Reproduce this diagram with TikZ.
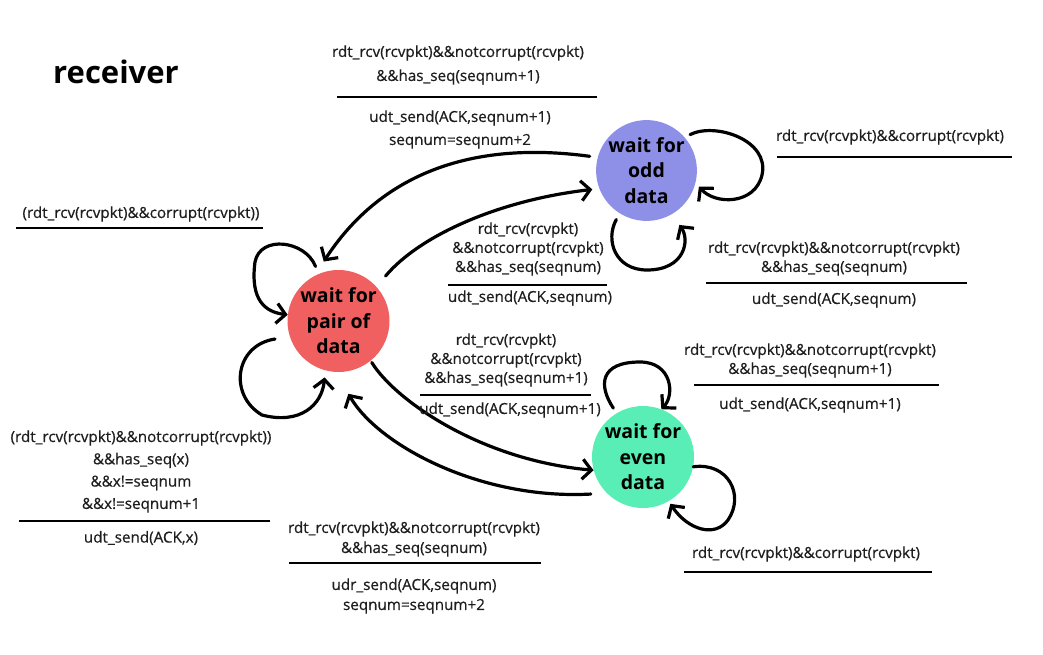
\documentclass[tikz,border=0pt]{standalone}
\usepackage{fontspec}
\setmainfont{Open Sans}
\newfontfamily\lblfont[FakeBold=0.6]{Open Sans}
\usetikzlibrary{arrows.meta}
\definecolor{pairred}{RGB}{240,96,96}
\definecolor{oddblue}{RGB}{142,143,230}
\definecolor{evengreen}{RGB}{88,238,182}
\definecolor{txt}{RGB}{30,30,30}
\begin{document}
\begin{tikzpicture}[x=1pt,y=-1pt,
  state/.style={circle, inner sep=0pt, align=center, font=\bfseries\fontsize{19.5}{25.5}\selectfont},
  tr/.style={line width=3.2pt, line cap=round, line join=round, -{Straight Barb[length=9pt,width=20pt]}},
  lbl/.style={inner sep=0pt, align=center, text=txt, font=\lblfont\fontsize{15.2}{19}\selectfont},
  bar/.style={line width=2.6pt}]
\useasboundingbox (0,0) rectangle (1043,655);

% states
\node[state, fill=pairred, minimum size=102pt] (pair) at (338.5,321) {wait for\\pair of\\data};
\node[state, fill=oddblue, minimum size=95pt] (odd) at (646.5,170.5) {wait for\\odd\\data};
\node[state, fill=evengreen, minimum size=102pt] (even) at (643,457) {wait for\\even\\data};

\node[inner sep=0pt, font=\bfseries\fontsize{31}{36}\selectfont] (title) at (116,72) {receiver};

% transitions
\draw[tr, shorten <=8pt, shorten >=17pt] (odd.165) .. controls (470,140) and (380,175) .. (pair.118);
\draw[tr, shorten <=14pt, shorten >=7pt] (pair.42) .. controls (420,235) and (500,200) .. (odd.201);
\draw[tr, shorten <=8pt] (pair.113) .. controls (305,240) and (260,235) .. (255,262) .. controls (250,300) and (265,312) .. (pair.173);
\draw[tr, shorten <=15pt, shorten >=7pt] (pair.198) .. controls (235,345) and (228,395) .. (262,415) .. controls (300,425) and (322,405) .. (pair.255);
\draw[tr, shorten <=2pt] (pair.-51) .. controls (395,400) and (480,460) .. (even.195);
\draw[tr, shorten <=16pt, shorten >=25pt] (even.225) .. controls (480,500) and (378,445) .. (pair.267);
\draw[tr, shorten <=6pt] (even.121) .. controls (598,385) and (600,362) .. (640,362) .. controls (672,362) and (675,395) .. (even.69);
\draw[tr, shorten >=3pt] (even.-11) .. controls (728,462) and (745,495) .. (728,520) .. controls (715,538) and (688,530) .. (even.-60);
\draw[tr, shorten <=6pt, shorten >=5pt] (odd.41) .. controls (715,122) and (770,140) .. (762,175) .. controls (755,205) and (715,205) .. (odd.-14);
\draw[tr, shorten <=7pt, shorten >=13pt] (odd.238) .. controls (605,240) and (615,270) .. (647,270) .. controls (685,270) and (690,240) .. (odd.-60);

% labels
\node[lbl, font=\lblfont\fontsize{15.2}{24}\selectfont] (l1c) at (458,65) {rdt\_rcv(rcvpkt)\&\&notcorrupt(rcvpkt)\\\&\&has\_seq(seqnum+1)};
\draw[bar] (337,97) -- (597,97);
\node[lbl, font=\lblfont\fontsize{15.2}{23}\selectfont] (l1a) at (460,129.5) {udt\_send(ACK,seqnum+1)\\seqnum=seqnum+2};

\node[lbl] (l2) at (890,137) {rdt\_rcv(rcvpkt)\&\&corrupt(rcvpkt)};
\draw[bar] (777,157) -- (1012,157);

\node[lbl] (l3c) at (834,258.5) {rdt\_rcv(rcvpkt)\&\&notcorrupt(rcvpkt)\\\&\&has\_seq(seqnum)};
\draw[bar] (706,283) -- (967,283);
\node[lbl] (l3a) at (834,300) {udt\_send(ACK,seqnum)};

\node[lbl] (l4c) at (528,249) {rdt\_rcv(rcvpkt)\\\&\&notcorrupt(rcvpkt)\\\&\&has\_seq(seqnum)};
\draw[bar] (448,285) -- (607,285);
\node[lbl] (l4a) at (530,298) {udt\_send(ACK,seqnum)};

\node[lbl] (l5) at (141,214) {(rdt\_rcv(rcvpkt)\&\&corrupt(rcvpkt))};
\draw[bar] (16,228) -- (263,228);

\node[lbl] (l6c) at (506,360) {rdt\_rcv(rcvpkt)\\\&\&notcorrupt(rcvpkt)\\\&\&has\_seq(seqnum+1)};
\draw[bar] (420,395) -- (591,395);
\node[lbl] (l6a) at (510,410) {udt\_send(ACK,seqnum+1)};

\node[lbl] (l7c) at (810,360.5) {rdt\_rcv(rcvpkt)\&\&notcorrupt(rcvpkt)\\\&\&has\_seq(seqnum+1)};
\draw[bar] (694,385) -- (939,385);
\node[lbl] (l7a) at (810,405) {udt\_send(ACK,seqnum+1)};

\node[lbl, font=\lblfont\fontsize{15.2}{22.3}\selectfont] (l8c) at (141,471.5) {(rdt\_rcv(rcvpkt)\&\&notcorrupt(rcvpkt))\\\&\&has\_seq(x)\\\&\&x!=seqnum\\\&\&x!=seqnum+1};
\draw[bar] (19,521) -- (270,521);
\node[lbl] (l8a) at (141,538) {udt\_send(ACK,x)};

\node[lbl, font=\lblfont\fontsize{15.2}{20}\selectfont] (l9c) at (414,539) {rdt\_rcv(rcvpkt)\&\&notcorrupt(rcvpkt)\\\&\&has\_seq(seqnum)};
\draw[bar] (289,563) -- (541,563);
\node[lbl, font=\lblfont\fontsize{15.2}{20}\selectfont] (l9a) at (414,596) {udr\_send(ACK,seqnum)\\seqnum=seqnum+2};

\node[lbl] (l10) at (806,554) {rdt\_rcv(rcvpkt)\&\&corrupt(rcvpkt)};
\draw[bar] (684,572) -- (932,572);
\end{tikzpicture}
\end{document}
